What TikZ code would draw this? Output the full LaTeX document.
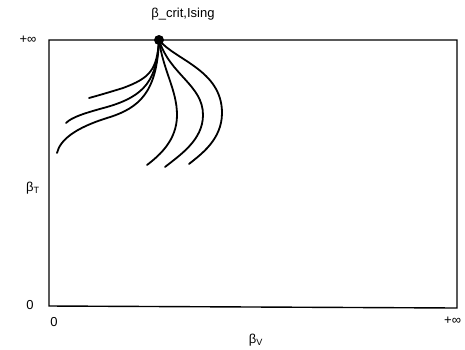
\documentclass[tikz,border=0pt]{standalone}
\usepackage{fontspec}
\setmainfont{Liberation Sans}
\begin{document}
\begin{tikzpicture}[x=1pt,y=-1pt,
  lbl/.style={font=\fontsize{13}{15}\selectfont,inner sep=0pt},
  flow/.style={line width=1.8pt,line cap=round},
  frame/.style={line width=1.4pt}]
\useasboundingbox (0,0) rectangle (465,349);
\coordinate (tl) at (49,40);
\coordinate (tr) at (457,40);
\coordinate (br) at (457,308);
\coordinate (bl) at (49,306);
\draw[frame] (tl) -- (tr) -- (br) -- (bl) -- cycle;
\node[circle,fill=black,inner sep=0pt,minimum size=10pt] (D) at (159,40) {};
\node[lbl] (title) at (183,14) {β\_crit,Ising};
\node[lbl] (pinf) at (28,40) {+∞};
\node[lbl] (bt) at (33,188) {β\textsubscript{T}};
\node[lbl] (z1) at (30,305) {0};
\node[lbl] (z2) at (54,322) {0};
\node[lbl,anchor=west] (pinf2) at (444,321) {+∞};
\node[lbl] (bv) at (256,340) {β\textsubscript{V}};
\draw[flow] (D.center) .. controls (157,70) and (150,78) .. (123,88) .. controls (110,92) and (100,95) .. (89,98);
\draw[flow] (D.center) .. controls (157,80) and (145,96) .. (107,107) .. controls (85,113) and (72,117) .. (66,123);
\draw[flow] (D.center) .. controls (157,92) and (140,108) .. (107,118) .. controls (75,128) and (60,140) .. (57,153);
\draw[flow] (D.center) .. controls (163,70) and (177,90) .. (177,115) .. controls (177,140) and (160,155) .. (147,165);
\draw[flow] (D.center) .. controls (170,75) and (203,85) .. (203,115) .. controls (203,140) and (180,155) .. (165,167);
\draw[flow] (D.center) .. controls (175,60) and (222,70) .. (222,113) .. controls (222,140) and (200,155) .. (189,164);
\end{tikzpicture}
\end{document}
